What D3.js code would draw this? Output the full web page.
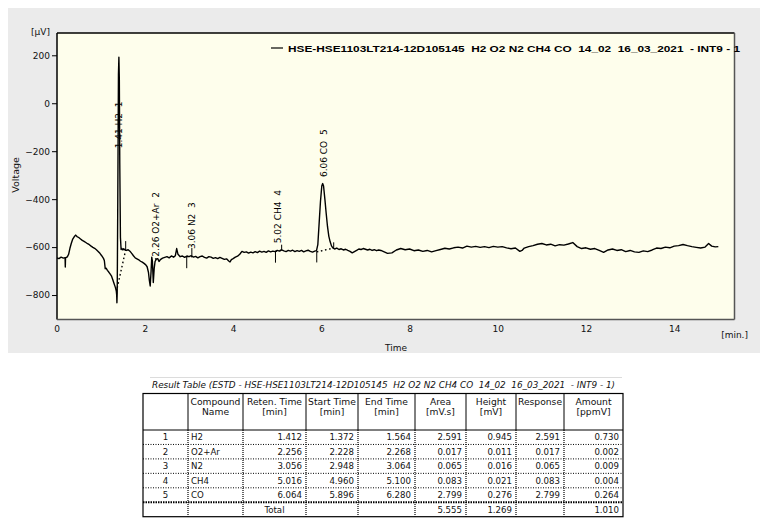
<!DOCTYPE html>
<html><head><meta charset="utf-8">
<script src="https://cdn.jsdelivr.net/npm/d3@7/dist/d3.min.js"></script>
<style>
html,body{margin:0;padding:0;background:#fff;}
svg{display:block;}
text{white-space:pre;}
</style></head>
<body>
<svg id="c" width="768" height="527"></svg>
<script>
// ---------------- DATA ----------------
const xTicks = [0, 2, 4, 6, 8, 10, 12, 14];
const yTicks = [-800, -600, -400, -200, 0, 200];

const traceT = [0.00,0.05,0.10,0.15,0.19,0.195,0.20,0.24,0.27,0.30,0.33,0.36,0.40,0.43,0.46,0.50,0.54,0.58,0.62,0.66,0.70,0.74,0.78,0.82,0.86,0.90,0.94,0.98,1.02,1.06,1.08,1.10,1.12,1.15,1.18,1.21,1.24,1.27,1.30,1.33,1.35,1.36,1.365,1.372,1.385,1.40,1.41,1.42,1.43,1.445,1.46,1.48,1.50,1.52,1.55,1.58,1.62,1.66,1.70,1.74,1.78,1.82,1.86,1.90,1.94,1.98,2.02,2.05,2.08,2.10,2.12,2.14,2.155,2.17,2.19,2.21,2.23,2.26,2.29,2.32,2.35,2.40,2.45,2.50,2.55,2.60,2.65,2.69,2.72,2.75,2.80,2.85,2.90,2.95,3.00,3.05,3.10,3.15,3.20,3.25,3.30,3.35,3.40,3.45,3.50,3.55,3.60,3.65,3.70,3.75,3.80,3.85,3.90,3.93,3.96,4.00,4.05,4.10,4.15,4.20,4.25,4.30,4.35,4.40,4.45,4.50,4.55,4.60,4.65,4.70,4.75,4.80,4.85,4.90,4.95,5.00,5.05,5.10,5.15,5.20,5.25,5.30,5.35,5.40,5.45,5.50,5.55,5.60,5.65,5.70,5.75,5.80,5.85,5.89,5.92,5.95,5.98,6.01,6.03,6.05,6.08,6.11,6.14,6.17,6.20,6.23,6.26,6.30,6.35,6.40,6.45,6.50,6.55,6.60,6.65,6.70,6.75,6.80,6.85,6.90,6.95,7.00,7.05,7.10,7.15,7.20,7.25,7.30,7.35,7.40,7.50,7.60,7.70,7.80,7.90,8.00,8.10,8.20,8.30,8.40,8.50,8.60,8.70,8.80,8.90,9.00,9.10,9.20,9.30,9.40,9.50,9.60,9.70,9.80,9.90,10.00,10.10,10.20,10.30,10.40,10.50,10.55,10.60,10.70,10.80,10.90,11.00,11.10,11.20,11.30,11.40,11.50,11.60,11.70,11.80,11.90,12.00,12.10,12.20,12.30,12.40,12.50,12.60,12.70,12.80,12.90,13.00,13.10,13.20,13.30,13.40,13.50,13.60,13.70,13.80,13.90,14.00,14.10,14.20,14.30,14.40,14.50,14.60,14.70,14.78,14.85,14.93,15.00];
const traceV = [-645,-648,-642,-646,-644,-683,-645,-641,-630,-605,-585,-568,-556,-550,-556,-560,-566,-572,-576,-581,-586,-590,-596,-601,-605,-611,-618,-626,-636,-647,-656,-690,-688,-697,-704,-712,-720,-735,-752,-768,-782,-800,-832,-790,-400,120,192,100,-250,-560,-610,-606,-612,-607,-612,-614,-611,-617,-626,-636,-645,-649,-653,-659,-663,-668,-674,-682,-705,-738,-762,-700,-642,-660,-748,-690,-660,-650,-648,-660,-652,-646,-643,-640,-645,-637,-642,-636,-606,-630,-640,-637,-643,-638,-640,-636,-642,-639,-645,-640,-637,-643,-646,-640,-642,-647,-644,-648,-643,-647,-651,-649,-658,-662,-652,-648,-642,-638,-630,-618,-622,-620,-625,-621,-624,-619,-623,-617,-621,-618,-622,-616,-620,-617,-619,-614,-617,-612,-616,-619,-614,-617,-613,-619,-615,-618,-614,-620,-616,-613,-618,-621,-617,-615,-590,-500,-410,-345,-335,-345,-400,-460,-515,-555,-578,-595,-603,-608,-604,-610,-607,-612,-609,-614,-618,-624,-619,-614,-608,-610,-606,-609,-612,-609,-614,-611,-615,-612,-614,-618,-626,-624,-612,-606,-611,-608,-615,-612,-618,-614,-620,-615,-610,-605,-608,-603,-600,-604,-596,-600,-597,-601,-598,-602,-597,-600,-598,-603,-607,-604,-618,-614,-604,-598,-594,-588,-585,-591,-588,-595,-590,-592,-587,-581,-598,-606,-603,-609,-606,-614,-622,-612,-608,-614,-611,-619,-614,-620,-622,-616,-619,-612,-604,-606,-600,-603,-596,-594,-589,-594,-598,-601,-604,-600,-585,-596,-599,-598];

// integration baselines (dotted)
const baseT0 = [1.372, 2.228, 2.948, 4.960, 5.896];
const baseV0 = [-770, -650, -638, -618, -620];
const baseT1 = [1.564, 2.268, 3.064, 5.100, 6.280];
const baseV1 = [-612, -648, -640, -613, -604];

// start / end markers
const markerT = [1.564, 2.948, 3.064, 4.960, 5.100, 5.896, 6.280];
const markerV0 = [-612, -638, -640, -618, -613, -617, -606];
const markerV1 = [-575, -688, -604, -665, -590, -664, -580];

// peak labels
const peakLabel = ["1.41 H2  1", "2.26 O2+Ar  2", "3.06 N2  3", "5.02 CH4  4", "6.06 CO  5"];
const peakLabelT = [1.41, 2.256, 3.056, 5.016, 6.06];
const peakLabelV = [-188, -640, -608, -584, -308];

const legendText = "HSE-HSE1103LT214-12D105145  H2 O2 N2 CH4 CO  14_02  16_03_2021  - INT9 - 1";
const tableTitle = "Result Table (ESTD - HSE-HSE1103LT214-12D105145  H2 O2 N2 CH4 CO  14_02  16_03_2021  - INT9 - 1)";

const headers1 = ["", "Compound", "Reten. Time", "Start Time", "End Time", "Area", "Height", "Response", "Amount"];
const headers2 = ["", "Name", "[min]", "[min]", "[min]", "[mV.s]", "[mV]", "", "[ppmV]"];
const compNo = ["1", "2", "3", "4", "5"];
const compName = ["H2", "O2+Ar", "N2", "CH4", "CO"];
const retTime = ["1.412", "2.256", "3.056", "5.016", "6.064"];
const startTime = ["1.372", "2.228", "2.948", "4.960", "5.896"];
const endTime = ["1.564", "2.268", "3.064", "5.100", "6.280"];
const areaVal = ["2.591", "0.017", "0.065", "0.083", "2.799"];
const heightVal = ["0.945", "0.011", "0.016", "0.021", "0.276"];
const responseVal = ["2.591", "0.017", "0.065", "0.083", "2.799"];
const amountVal = ["0.730", "0.002", "0.009", "0.004", "0.264"];
const totalRow = ["", "", "Total", "", "", "5.555", "1.269", "", "1.010"];

// ---------------- DRAW ----------------
const svg = d3.select("#c");
const F = "'DejaVu Sans', Verdana, sans-serif";

const P = {l: 57, t: 33, r: 734.5, b: 319.5};
const x = d3.scaleLinear().domain([0, 15.36]).range([56.7, 734.2]);
const y = d3.scaleLinear().domain([-902, 293]).range([P.b, P.t]);

svg.append("rect").attr("x", 8).attr("y", 8).attr("width", 752).attr("height", 345).attr("fill", "#ebebeb");
svg.append("rect").attr("x", P.l).attr("y", P.t).attr("width", P.r - P.l).attr("height", P.b - P.t).attr("fill", "#fefeec");

const g = svg.append("g");
svg.append("clipPath").attr("id", "pc").append("rect")
  .attr("x", P.l).attr("y", P.t).attr("width", P.r - P.l).attr("height", P.b - P.t);
const pg = g.append("g").attr("clip-path", "url(#pc)");

// trace
const pts = traceT.map((t, i) => [t, traceV[i]]);
pg.append("path").datum(pts)
  .attr("d", d3.line().x(d => x(d[0])).y(d => y(d[1])))
  .attr("fill", "none").attr("stroke", "#000").attr("stroke-width", 1.4).attr("stroke-linejoin", "round");

// baselines
pg.selectAll("line.base").data(baseT0).enter().append("line").attr("class", "base")
  .attr("x1", (d, i) => x(d)).attr("y1", (d, i) => y(baseV0[i]))
  .attr("x2", (d, i) => x(baseT1[i])).attr("y2", (d, i) => y(baseV1[i]))
  .attr("stroke", "#000").attr("stroke-width", 1.4).attr("stroke-dasharray", "1.6,2.6");

// markers
pg.selectAll("line.mk").data(markerT).enter().append("line").attr("class", "mk")
  .attr("x1", d => x(d)).attr("x2", d => x(d))
  .attr("y1", (d, i) => y(markerV0[i])).attr("y2", (d, i) => y(markerV1[i]))
  .attr("stroke", "#000").attr("stroke-width", 1);

// peak labels
pg.selectAll("text.pl").data(peakLabel).enter().append("text").attr("class", "pl")
  .attr("transform", (d, i) => `translate(${x(peakLabelT[i])},${y(peakLabelV[i])}) rotate(-90)`)
  .attr("dy", "0.35em").attr("font-family", F).attr("font-size", 9).attr("fill", "#000")
  .text(d => d);

// frame
g.append("line").attr("x1", P.l).attr("x2", P.r).attr("y1", P.t).attr("y2", P.t).attr("stroke", "#000").attr("stroke-width", 1.5);
g.append("line").attr("x1", P.l).attr("x2", P.l).attr("y1", P.t).attr("y2", P.b).attr("stroke", "#000").attr("stroke-width", 1.5);
g.append("line").attr("x1", P.r).attr("x2", P.r).attr("y1", P.t).attr("y2", P.b).attr("stroke", "#555").attr("stroke-width", 1.5);
g.append("line").attr("x1", P.l).attr("x2", P.r).attr("y1", P.b).attr("y2", P.b).attr("stroke", "#555").attr("stroke-width", 1.5);

// axes
const ya = svg.append("g").attr("transform", `translate(${P.l},0)`)
  .call(d3.axisLeft(y).tickValues(yTicks).tickSize(5).tickPadding(2).tickFormat(d3.format("d")));
ya.select(".domain").remove();
ya.selectAll("text").attr("font-family", F).attr("font-size", 9).attr("fill", "#111");
ya.selectAll("line").attr("stroke", "#000");

const xa = svg.append("g").attr("transform", `translate(0,${P.b})`)
  .call(d3.axisBottom(x).tickValues(xTicks).tickSize(0).tickPadding(6));
xa.select(".domain").remove();
xa.selectAll("text").attr("font-family", F).attr("font-size", 9).attr("fill", "#111");

svg.append("text").attr("x", 31).attr("y", 35).attr("font-family", F).attr("font-size", 9).attr("fill", "#111").text("[μV]");
svg.append("text").attr("transform", "translate(19,175) rotate(-90)").attr("text-anchor", "middle")
  .attr("font-family", F).attr("font-size", 9.5).attr("fill", "#111").text("Voltage");
svg.append("text").attr("x", 385).attr("y", 351).attr("font-family", F).attr("font-size", 9).attr("fill", "#111").text("Time");
svg.append("text").attr("x", 748).attr("y", 338).attr("text-anchor", "end").attr("font-family", F).attr("font-size", 9).attr("fill", "#111").text("[min.]");

// legend
svg.append("line").attr("x1", 271).attr("x2", 283).attr("y1", 48).attr("y2", 48).attr("stroke", "#000").attr("stroke-width", 1.2);
svg.append("text").attr("x", 288).attr("y", 51.5).attr("font-family", "'Liberation Sans', Arial, sans-serif")
  .attr("font-weight", "bold").attr("font-size", 9.5).attr("fill", "#000")
  .attr("textLength", 452).attr("lengthAdjust", "spacingAndGlyphs").text(legendText);

// ---------------- TABLE ----------------
const cols = [143, 188, 243, 306, 358, 415, 466, 516, 564, 623];
const tTop = 393.5, hBot = 430, rowH = 14.45;
const nRows = compName.length + 1;
const tBot = hBot + nRows * rowH;

svg.append("line").attr("x1", 150).attr("x2", 622).attr("y1", 377.5).attr("y2", 377.5).attr("stroke", "#dcdcdc").attr("stroke-width", 1);
svg.append("text").attr("x", 152).attr("y", 387.5).attr("font-family", F).attr("font-style", "italic")
  .attr("font-size", 9).attr("fill", "#111").attr("textLength", 463).attr("lengthAdjust", "spacingAndGlyphs").text(tableTitle);

const tg = svg.append("g");
tg.append("rect").attr("x", cols[0]).attr("y", tTop).attr("width", cols[cols.length - 1] - cols[0]).attr("height", tBot - tTop)
  .attr("fill", "none").attr("stroke", "#000").attr("stroke-width", 1.2);
tg.append("line").attr("x1", cols[0]).attr("x2", cols[cols.length - 1]).attr("y1", hBot).attr("y2", hBot).attr("stroke", "#000").attr("stroke-width", 1);
cols.slice(1, -1).forEach(cx => {
  tg.append("line").attr("x1", cx).attr("x2", cx).attr("y1", tTop).attr("y2", hBot).attr("stroke", "#000").attr("stroke-width", 1);
  tg.append("line").attr("x1", cx).attr("x2", cx).attr("y1", hBot).attr("y2", tBot).attr("stroke", "#000").attr("stroke-width", 1.2).attr("stroke-dasharray", "1,1");
});
for (let r = 1; r < nRows; r++) {
  const yy = hBot + r * rowH;
  const last = r === nRows - 1;
  tg.append("line").attr("x1", cols[0]).attr("x2", cols[cols.length - 1]).attr("y1", yy).attr("y2", yy)
    .attr("stroke", "#000").attr("stroke-width", last ? 2 : 1).attr("stroke-dasharray", last ? "1.5,1" : "1,1.5");
}
headers1.forEach((h, i) => {
  const cx = (cols[i] + cols[i + 1]) / 2;
  tg.append("text").attr("x", cx).attr("y", 405).attr("text-anchor", "middle").attr("font-family", F).attr("font-size", 9.2).attr("fill", "#111").text(h);
  tg.append("text").attr("x", cx).attr("y", 414.5).attr("text-anchor", "middle").attr("font-family", F).attr("font-size", 9.2).attr("fill", "#111").text(headers2[i]);
});
const bodyCols = [compNo, compName, retTime, startTime, endTime, areaVal, heightVal, responseVal, amountVal];
compName.forEach((n, r) => {
  const yy = hBot + (r + 0.5) * rowH + 3.2;
  bodyCols.forEach((colArr, c) => {
    const t = tg.append("text").attr("y", yy).attr("font-family", F).attr("font-size", 8.6).attr("fill", "#111").text(colArr[r]);
    if (c === 0) t.attr("x", (cols[0] + cols[1]) / 2).attr("text-anchor", "middle");
    else if (c === 1) t.attr("x", cols[1] + 3).attr("text-anchor", "start");
    else t.attr("x", cols[c + 1] - 4).attr("text-anchor", "end");
  });
});
const ty = hBot + (nRows - 0.5) * rowH + 3.2;
totalRow.forEach((v, c) => {
  if (!v) return;
  const t = tg.append("text").attr("y", ty).attr("font-family", F).attr("font-size", 8.6).attr("fill", "#111").text(v);
  if (c === 2) t.attr("x", (cols[2] + cols[3]) / 2).attr("text-anchor", "middle");
  else t.attr("x", cols[c + 1] - 4).attr("text-anchor", "end");
});
</script>
</body></html>
